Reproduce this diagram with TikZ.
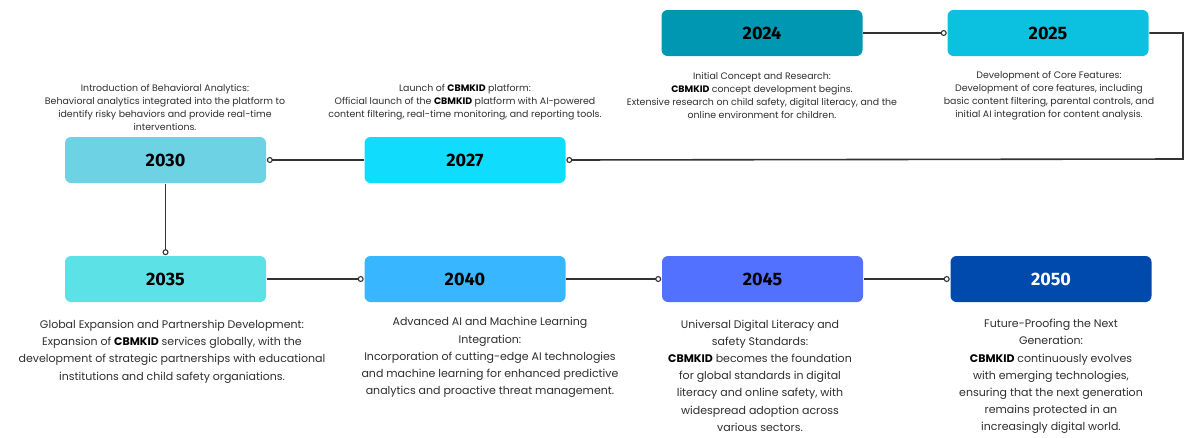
\documentclass[tikz,border=0pt]{standalone}
\usepackage{fontspec}
\setmainfont{Poppins}
\newfontfamily\yearfont{Fira Sans}
\usetikzlibrary{arrows.meta}
\definecolor{txt}{HTML}{2E2E2E}
\definecolor{lnk}{HTML}{333333}
\definecolor{cA}{HTML}{0097B2}
\definecolor{cB}{HTML}{0CC0DF}
\definecolor{cC}{HTML}{10DCFD}
\definecolor{cD}{HTML}{6DD2E4}
\definecolor{cE}{HTML}{5CE1E6}
\definecolor{cF}{HTML}{38B6FF}
\definecolor{cG}{HTML}{5271FF}
\definecolor{cH}{HTML}{004AAD}
\newcommand{\cbm}{\textbf{\color{black}CBMKID}}
\begin{document}
\begin{tikzpicture}[x=1pt, y=-1pt, line width=1.6pt,
	yearbox/.style={rounded corners=6pt, minimum width=201pt, minimum height=46pt, inner sep=0pt, font=\yearfont\bfseries\fontsize{18}{18}\selectfont},
	toptext/.style={align=center, text=txt, font=\fontsize{9.4}{13}\selectfont},
	lowtext/.style={align=center, text=txt, font=\fontsize{11}{17.2}\selectfont},
	link/.style={draw=lnk, -{Circle[open, length=6pt, width=6pt, line width=1.1pt]}}]
	\useasboundingbox (0,0) rectangle (1184,437);
	\node[yearbox, fill=cA] (y2024) at (762,33) {2024};
	\node[yearbox, fill=cB] (y2025) at (1048,33) {2025};
	\node[yearbox, fill=cD] (y2030) at (165.5,160) {2030};
	\node[yearbox, fill=cC] (y2027) at (465,160) {2027};
	\node[yearbox, fill=cE] (y2035) at (165.5,279) {2035};
	\node[yearbox, fill=cF] (y2040) at (465,279) {2040};
	\node[yearbox, fill=cG] (y2045) at (762.5,279) {2045};
	\node[yearbox, fill=cH, text=white] (y2050) at (1051,279) {2050};
	\coordinate (edgeA) at (1183,33);
	\coordinate (edgeB) at (1183,159);
	\draw[link] (y2024) -- (y2025);
	\draw[link] (y2025.east) -- (edgeA) -- (edgeB) -- (y2027.east);
	\draw[link] (y2027) -- (y2030);
	\draw[link] (y2030) -- (y2035);
	\draw[link] (y2035) -- (y2040);
	\draw[link] (y2040) -- (y2045);
	\draw[link] (y2045) -- (y2050);
	\node[toptext] (t2024) at (762,95.5) {Initial Concept and Research:\\ \cbm{} concept development begins.\\ Extensive research on child safety, digital literacy, and the\\ online environment for children.};
	\node[toptext] (t2025) at (1049,95.5) {Development of Core Features:\\ Development of core features, including\\ basic content filtering, parental controls, and\\ initial AI integration for content analysis.};
	\node[toptext] (t2030) at (165,107.5) {Introduction of Behavioral Analytics:\\ Behavioral analytics integrated into the platform to\\ identify risky behaviors and provide real-time\\ interventions.};
	\node[toptext] (t2027) at (465,102) {Launch of \cbm{} platform:\\ Official launch of the \cbm{} platform with AI-powered\\ content filtering, real-time monitoring, and reporting tools.};
	\node[lowtext] (t2035) at (172,351.5) {Global Expansion and Partnership Development:\\ Expansion of \cbm{} services globally, with the\\ development of strategic partnerships with educational\\ institutions and child safety organiations.};
	\node[lowtext] (t2040) at (490,357.5) {Advanced AI and Machine Learning\\ Integration:\\ Incorporation of cutting-edge AI technologies\\ and machine learning for enhanced predictive\\ analytics and proactive threat management.};
	\node[lowtext] (t2045) at (760,375.5) {Universal Digital Literacy and\\ safety Standards:\\ \cbm{} becomes the foundation\\ for global standards in digital\\ literacy and online safety, with\\ widespread adoption across\\ various sectors.};
	\node[lowtext] (t2050) at (1051,376.5) {Future-Proofing the Next\\ Generation:\\ \cbm{} continuously evolves\\ with emerging technologies,\\ ensuring that the next generation\\ remains protected in an\\ increasingly digital world.};
\end{tikzpicture}
\end{document}
